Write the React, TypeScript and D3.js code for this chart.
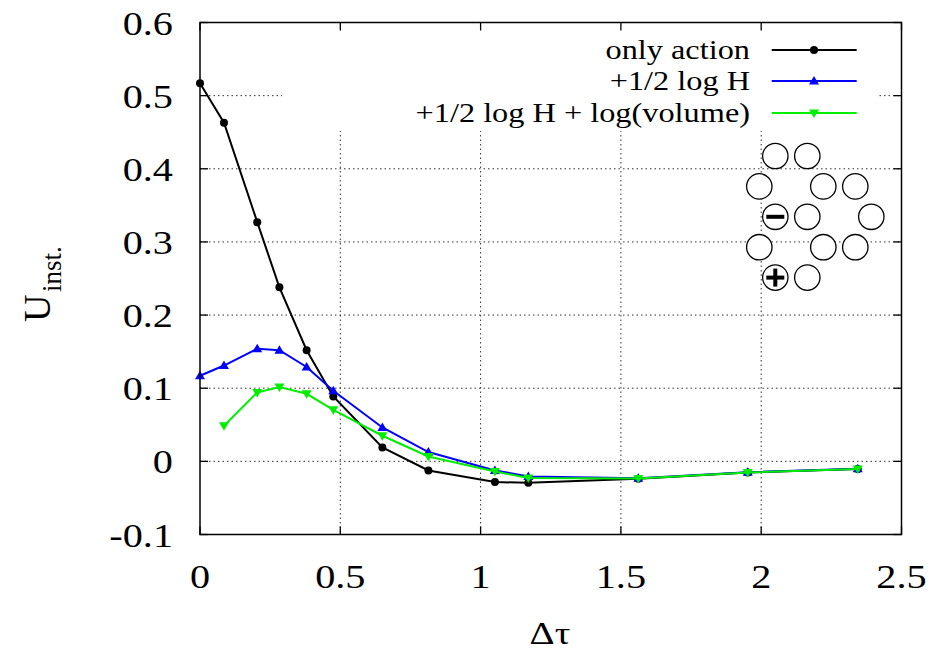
import React from "react";
import * as d3 from "d3";

const xsAction = [0, 0.0855, 0.204, 0.283, 0.380, 0.475, 0.650, 0.814, 1.051, 1.170, 1.562, 1.952, 2.344];
const onlyAction = [0.517, 0.463, 0.327, 0.238, 0.152, 0.0887, 0.019, -0.0124, -0.0283, -0.0293, -0.0238, -0.0152, -0.0105];
const xsLogH = [0, 0.0855, 0.204, 0.283, 0.380, 0.475, 0.650, 0.814, 1.051, 1.170, 1.562, 1.952, 2.344];
const logH = [0.117, 0.131, 0.154, 0.152, 0.129, 0.0965, 0.0463, 0.0127, -0.0124, -0.0206, -0.0232, -0.0150, -0.0102];
const xsVolume = [0.0855, 0.204, 0.283, 0.380, 0.475, 0.650, 0.814, 1.051, 1.170, 1.562, 1.952, 2.344];
const logHVolume = [0.0487, 0.0942, 0.1016, 0.0924, 0.0705, 0.035, 0.0067, -0.0138, -0.0228, -0.0236, -0.0152, -0.0103];

const xTicks = [0, 0.5, 1, 1.5, 2, 2.5];
const yTicks = [-0.1, 0, 0.1, 0.2, 0.3, 0.4, 0.5, 0.6];
const legendLabels = ["only action", "+1/2 log H", "+1/2 log H + log(volume)"];

// inset lattice: [column in half-steps, row, charge]
const insetSites: [number, number, string][] = [
  [1, 0, ""], [3, 0, ""],
  [0, 1, ""], [4, 1, ""], [6, 1, ""],
  [1, 2, "-"], [3, 2, ""], [7, 2, ""],
  [0, 3, ""], [4, 3, ""], [6, 3, ""],
  [1, 4, "+"], [3, 4, ""],
];

const W = 938, H = 653;
const L = 200, R = 901.5, T = 22.5, B = 534.5;
const SX = 1.22;
const FONT = "'Liberation Serif', 'DejaVu Serif', serif";

export default function App() {
  const x = d3.scaleLinear().domain([0, 2.5]).range([L, R]);
  const y = d3.scaleLinear().domain([-0.1, 0.6]).range([B, T]);
  const line = d3.line<[number, number]>().x(d => x(d[0])).y(d => y(d[1]));

  const series = [
    { xs: xsAction, ys: onlyAction, color: "#000000", marker: "circle" },
    { xs: xsLogH, ys: logH, color: "#0000ff", marker: "up" },
    { xs: xsVolume, ys: logHVolume, color: "#00ee00", marker: "down" },
  ];

  const marker = (kind: string, cx: number, cy: number, color: string, key: string) => {
    if (kind === "circle") return <circle key={key} cx={cx} cy={cy} r={4} fill={color} />;
    const s = 5;
    if (kind === "up")
      return <path key={key} d={`M${cx},${cy - s}L${cx + s},${cy + s * 0.7}L${cx - s},${cy + s * 0.7}Z`} fill={color} />;
    return <path key={key} d={`M${cx},${cy + s}L${cx + s},${cy - s * 0.7}L${cx - s},${cy - s * 0.7}Z`} fill={color} />;
  };

  const txt = (s: string, tx: number, ty: number, size: number, anchor: string, key?: string) => (
    <text key={key} transform={`translate(${tx},${ty}) scale(${SX},1)`} fontSize={size} textAnchor={anchor} fontFamily={FONT} fill="#000">{s}</text>
  );

  const legendY = [50, 81, 113];
  const insetX0 = 759.3, insetY0 = 156, insetDx = 16, insetDy = 30.4, insetR = 12.7;

  return (
    <svg width={W} height={H} style={{ position: "absolute", left: 0, top: 0, background: "#fff" }}>
      <rect x={0} y={0} width={W} height={H} fill="#fff" />
      {/* grid */}
      <g stroke="#333" strokeWidth={1} strokeDasharray="1.5,3">
        {yTicks.filter(v => v > -0.1 && v < 0.6).map(v => (
          <line key={"gy" + v} x1={L} x2={R} y1={y(v)} y2={y(v)} />
        ))}
        {xTicks.filter(v => v > 0 && v < 2.5).map(v => (
          <line key={"gx" + v} x1={x(v)} x2={x(v)} y1={T} y2={B} />
        ))}
      </g>
      {/* legend box (opaque) */}
      <rect x={282} y={T} width={877 - 282} height={131 - T} fill="#fff" />
      {/* inset */}
      <g>
        {insetSites.map(([c, r, q], i) => {
          const cx = insetX0 + c * insetDx, cy = insetY0 + r * insetDy;
          return (
            <g key={"s" + i}>
              <circle cx={cx} cy={cy} r={insetR} fill="#fff" stroke="#000" strokeWidth={1.3} />
              {q !== "" && <line x1={cx - 9} x2={cx + 9} y1={cy} y2={cy} stroke="#000" strokeWidth={4} />}
              {q === "+" && <line x1={cx} x2={cx} y1={cy - 9} y2={cy + 9} stroke="#000" strokeWidth={4} />}
            </g>
          );
        })}
      </g>
      {/* ticks */}
      <g stroke="#000" strokeWidth={1.3}>
        {xTicks.map(v => (
          <g key={"tx" + v}>
            <line x1={x(v)} x2={x(v)} y1={B} y2={B - 8} />
            <line x1={x(v)} x2={x(v)} y1={T} y2={T + 8} />
          </g>
        ))}
        {yTicks.map(v => (
          <g key={"ty" + v}>
            <line x1={L} x2={L + 8} y1={y(v)} y2={y(v)} />
            <line x1={R} x2={R - 8} y1={y(v)} y2={y(v)} />
          </g>
        ))}
      </g>
      {/* series */}
      {series.map((s, si) => {
        const pts: [number, number][] = s.xs.map((xv, i) => [xv, s.ys[i]]);
        return (
          <g key={"ser" + si}>
            <path d={line(pts) || ""} fill="none" stroke={s.color} strokeWidth={2} />
            {pts.map((p, i) => marker(s.marker, x(p[0]), y(p[1]), s.color, "m" + si + "-" + i))}
          </g>
        );
      })}
      {/* frame */}
      <rect x={L} y={T} width={R - L} height={B - T} fill="none" stroke="#000" strokeWidth={1.5} />
      {/* legend */}
      {series.map((s, i) => (
        <g key={"lg" + i}>
          {txt(legendLabels[i], 750, legendY[i] + 9, 26.5, "end")}
          <line x1={771.7} x2={856.7} y1={legendY[i]} y2={legendY[i]} stroke={s.color} strokeWidth={2} />
          {marker(s.marker, 814, legendY[i], s.color, "lm" + i)}
        </g>
      ))}
      {/* tick labels */}
      {yTicks.map(v => txt(String(+v.toFixed(1)), 173, y(v) + 12, 33, "end", "yl" + v))}
      {xTicks.map(v => txt(String(v), x(v), 588, 33, "middle", "xl" + v))}
      {/* axis labels */}
      <text transform={`translate(550,644) scale(${SX},1)`} fontSize={32} textAnchor="middle" fontFamily={FONT}>Δτ</text>
      <text transform={`translate(50,322) rotate(-90)`} fontSize={38} textAnchor="start" fontFamily={FONT}>U</text>
      <text transform={`translate(61,292) rotate(-90)`} fontSize={27} textAnchor="start" fontFamily={FONT}>inst.</text>
    </svg>
  );
}
